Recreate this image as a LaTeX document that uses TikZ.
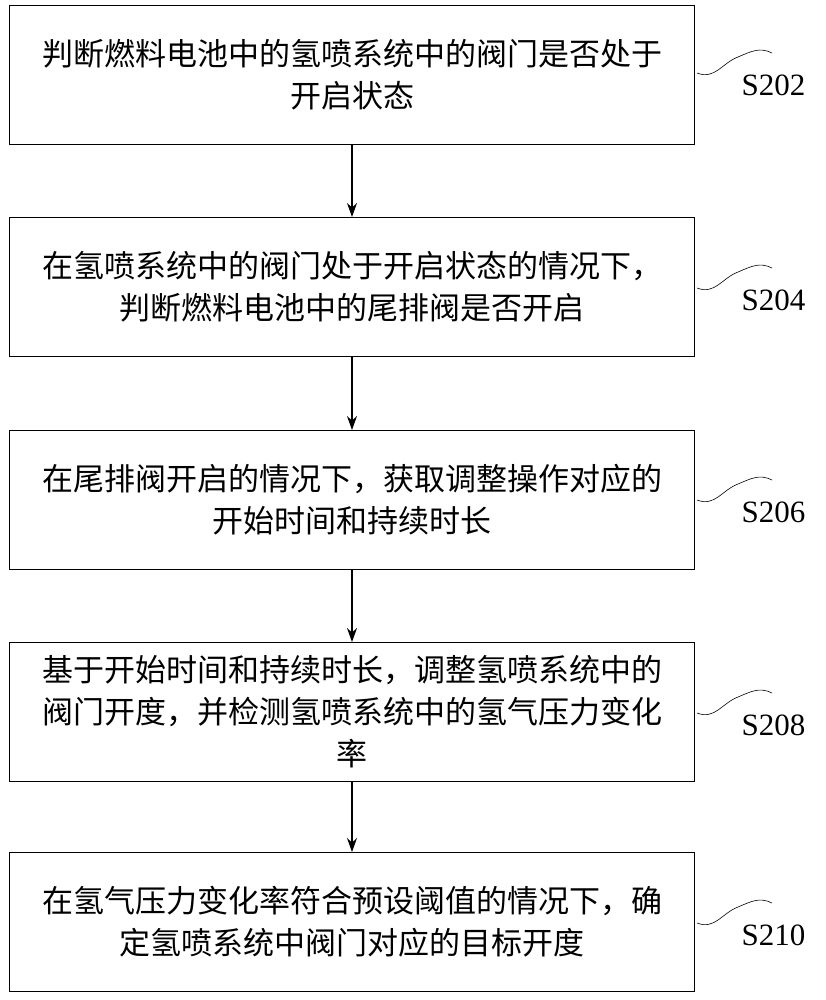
\documentclass[tikz,border=0pt]{standalone}
\usepackage{fontspec}
\setmainfont{Liberation Serif}
\newfontfamily\cjk{Noto Sans CJK SC}
\usetikzlibrary{arrows.meta}
\begin{document}
\begin{tikzpicture}[x=1pt,y=-1pt,
  stepbox/.style={draw,line width=1pt,minimum width=685pt,minimum height=139pt,text width=670pt,align=center,font=\cjk\fontsize{31}{42}\selectfont,inner sep=0pt},
  lab/.style={font=\fontsize{31}{31}\selectfont,anchor=west},
  arr/.style={-{Stealth[length=14pt,width=10pt]},line width=1.2pt},
  wav/.style={line width=0.6pt}]
\useasboundingbox (0,0) rectangle (826,1000);
\node[stepbox] (b1) at (352,75) {判断燃料电池中的氢喷系统中的阀门是否处于\\开启状态};
\node[stepbox] (b2) at (352,287) {在氢喷系统中的阀门处于开启状态的情况下，\\判断燃料电池中的尾排阀是否开启};
\node[stepbox] (b3) at (352,500) {在尾排阀开启的情况下，获取调整操作对应的\\开始时间和持续时长};
\node[stepbox] (b4) at (352,712) {基于开始时间和持续时长，调整氢喷系统中的\\阀门开度，并检测氢喷系统中的氢气压力变化\\率};
\node[stepbox] (b5) at (352,922) {在氢气压力变化率符合预设阈值的情况下，确\\定氢喷系统中阀门对应的目标开度};
\draw[arr] (b1) -- (b2);
\draw[arr] (b2) -- (b3);
\draw[arr] (b3) -- (b4);
\draw[arr] (b4) -- (b5);
\foreach \n/\y/\t in {1/85/S202,2/300/S204,3/512/S206,4/725/S208,5/935/S210}{
  \node[lab] (l\n) at (738,\y) {\t};
  \coordinate (w\n) at (697,\y-12);
  \draw[wav] (w\n) .. controls (715,\y-5) and (722,\y-22) .. (738,\y-28) .. controls (752,\y-34) and (760,\y-38) .. (772,\y-32);
}
\end{tikzpicture}
\end{document}
